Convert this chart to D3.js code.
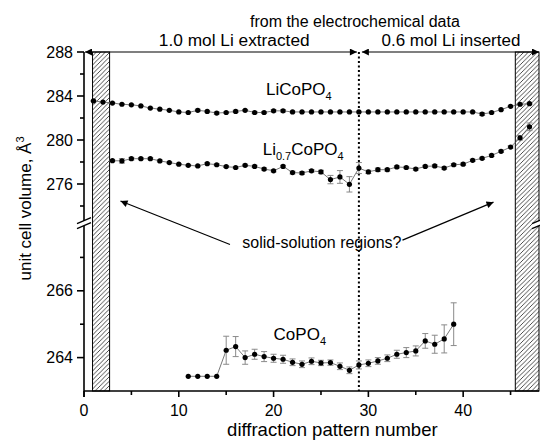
<!DOCTYPE html>
<html>
<head>
<meta charset="utf-8">
<script src="https://cdn.jsdelivr.net/npm/d3@7"></script>
<style>
body { margin: 0; background: #fff; }
text { font-family: Arial, "Liberation Sans", sans-serif; fill: #000; }
</style>
</head>
<body>
<div id="graph"></div>
<script>
// ---- data ----
const liCoStart = 1
const liCoPO4 = [283.55, 283.45, 283.36, 283.25, 283.2, 283.1, 282.9, 282.8, 282.7, 282.55,
  282.5, 282.7, 282.6, 282.45, 282.5, 282.6, 282.7, 282.5, 282.5, 282.65,
  282.65, 282.55, 282.55, 282.55, 282.55, 282.55, 282.55, 282.55, 282.55, 282.55,
  282.55, 282.55, 282.55, 282.55, 282.55, 282.55, 282.55, 282.55, 282.55, 282.55,
  282.55, 282.36, 282.5, 282.76, 283.06, 283.25, 283.3]
const liCoErr = [0.03, 0.03, 0.03, 0.03, 0.03, 0.03, 0.03, 0.03, 0.03, 0.04,
  0.04, 0.1, 0.06, 0.1, 0.06, 0.1, 0.06, 0.1, 0.08, 0.1,
  0.1, 0.06, 0.05, 0.05, 0.05, 0.05, 0.05, 0.05, 0.05, 0.05,
  0.05, 0.05, 0.05, 0.05, 0.05, 0.05, 0.05, 0.05, 0.05, 0.05,
  0.05, 0.12, 0.06, 0.06, 0.05, 0.05, 0.05]

const li07Start = 3
const li07CoPO4 = [278.12, 278.1, 278.3, 278.3, 278.3, 278.1, 277.95, 277.8, 277.7, 277.64,
  277.85, 277.75, 277.58, 277.5, 277.7, 277.6, 277.36, 277.2, 277.6, 277.04,
  277.0, 277.2, 277.1, 276.4, 276.64, 275.97, 277.45, 277.1, 277.3, 277.3,
  277.55, 277.5, 277.36, 277.6, 277.64, 277.45, 277.75, 277.8, 278.15, 278.33,
  278.6, 278.97, 279.36, 280.2, 281.2]
const li07Err = [0.05, 0.2, 0.12, 0.08, 0.08, 0.08, 0.06, 0.06, 0.06, 0.06,
  0.08, 0.08, 0.08, 0.08, 0.1, 0.1, 0.1, 0.1, 0.1, 0.12,
  0.12, 0.12, 0.15, 0.38, 0.58, 0.7, 0.5, 0.15, 0.15, 0.12,
  0.1, 0.1, 0.1, 0.1, 0.1, 0.1, 0.1, 0.1, 0.1, 0.1,
  0.1, 0.1, 0.1, 0.2, 0.35]

const coStart = 11
const coPO4 = [263.44, 263.44, 263.44, 263.44, 264.22, 264.33, 264.0, 264.1, 264.03, 263.98,
  263.95, 263.86, 263.8, 263.89, 263.84, 263.85, 263.74, 263.62, 263.78, 263.83,
  263.9, 263.98, 264.1, 264.15, 264.2, 264.5, 264.4, 264.56, 265.0]
const coErr = [0, 0, 0, 0, 0.42, 0.3, 0.2, 0.15, 0.15, 0.12,
  0.12, 0.1, 0.1, 0.1, 0.08, 0.08, 0.1, 0.1, 0.12, 0.1,
  0.1, 0.1, 0.12, 0.15, 0.15, 0.22, 0.27, 0.42, 0.64]

const xTicks = [0, 10, 20, 30, 40]
const xMinor = [5, 15, 25, 35, 45]
const yUpTicks = [276, 280, 284, 288]
const yUpMinor = [274, 278, 282, 286]
const yLoTicks = [264, 266]
const yLoMinor = [265, 267]

const switchAt = 29          // where extraction turns into insertion
const hatchLeft = [0.9, 2.7]
const hatchRight = [45.5, 48]

// ---- layout ----
const W = 540, H = 443
const x = d3.scaleLinear().domain([0, 48]).range([84, 539])
const yUp = d3.scaleLinear().domain([272.6, 288]).range([221.4, 52])
const yLo = d3.scaleLinear().domain([263, 268]).range([391, 224])
const yBot = yLo(263), yTop = yUp(288)

const svg = d3.select('#graph').append('svg')
  .attr('width', W)
  .attr('height', H)

const defs = svg.append('defs')
const pat = defs.append('pattern')
  .attr('id', 'hatch')
  .attr('patternUnits', 'userSpaceOnUse')
  .attr('width', 4.5)
  .attr('height', 4.5)
pat.append('path')
  .attr('d', 'M-1,1 l2,-2 M0,4.5 l4.5,-4.5 M3.5,5.5 l2,-2')
  .attr('stroke', '#000')
  .attr('stroke-width', 0.7)

defs.append('marker')
  .attr('id', 'head')
  .attr('viewBox', '0 0 10 10')
  .attr('refX', 10).attr('refY', 5)
  .attr('markerWidth', 9).attr('markerHeight', 7)
  .attr('markerUnits', 'userSpaceOnUse')
  .attr('orient', 'auto-start-reverse')
  .append('path')
  .attr('d', 'M0,0 L10,5 L0,10 z')
  .attr('fill', '#000')

// hatched boxes
const hatch = (range)=>{
  svg.append('rect')
    .attr('x', x(range[0]))
    .attr('y', yTop)
    .attr('width', x(range[1]) - x(range[0]))
    .attr('height', yBot - yTop)
    .attr('fill', 'url(#hatch)')
    .attr('stroke', '#000')
    .attr('stroke-width', 1)
}
hatch(hatchLeft)
hatch(hatchRight)

// dotted divider
svg.append('line')
  .attr('x1', x(switchAt)).attr('x2', x(switchAt))
  .attr('y1', yTop).attr('y2', yBot)
  .attr('stroke', '#000')
  .attr('stroke-width', 2)
  .attr('stroke-dasharray', '2,2.5')

// ---- series ----
const series = (vals, errs, start, y)=>{
  const pts = vals.map((v, i) => ({n: start + i, v: v, e: errs[i]}))

  svg.append('path')
    .datum(pts)
    .attr('d', d3.line().x(d => x(d.n)).y(d => y(d.v)))
    .attr('fill', 'none')
    .attr('stroke', '#555')
    .attr('stroke-width', 0.8)

  const eb = svg.append('g')
    .attr('stroke', '#8a8a8a')
    .attr('stroke-width', 1)
  pts.filter(d => d.e > 0).forEach(d => {
    const cx = x(d.n), y1 = y(d.v + d.e), y2 = y(d.v - d.e)
    eb.append('path')
      .attr('d', `M${cx},${y1}V${y2}M${cx - 3},${y1}h6M${cx - 3},${y2}h6`)
  })

  svg.append('g').selectAll('circle')
    .data(pts)
    .enter()
    .append('circle')
    .attr('cx', d => x(d.n))
    .attr('cy', d => y(d.v))
    .attr('r', 2.6)
    .attr('fill', '#000')
}
series(liCoPO4, liCoErr, liCoStart, yUp)
series(li07CoPO4, li07Err, li07Start, yUp)
series(coPO4, coErr, coStart, yLo)

// ---- axes ----
const ax = svg.append('g').attr('stroke', '#000').attr('stroke-width', 1.6)
ax.append('line').attr('x1', x(0)).attr('x2', x(48)).attr('y1', yBot).attr('y2', yBot)
ax.append('line').attr('x1', x(0)).attr('x2', x(0)).attr('y1', yTop).attr('y2', yUp(272.6))
ax.append('line').attr('x1', x(0)).attr('x2', x(0)).attr('y1', yLo(268)).attr('y2', yBot + 6)

xTicks.forEach(t => {
  ax.append('line').attr('x1', x(t)).attr('x2', x(t)).attr('y1', yBot).attr('y2', yBot + 6)
  svg.append('text').attr('x', x(t)).attr('y', yBot + 25)
    .attr('text-anchor', 'middle').attr('font-size', 16).text(t)
})
xMinor.forEach(t => {
  ax.append('line').attr('x1', x(t)).attr('x2', x(t)).attr('y1', yBot).attr('y2', yBot + 4)
})

const yTicks = (ticks, minor, y)=>{
  ticks.forEach(t => {
    ax.append('line').attr('x1', x(0) - 7).attr('x2', x(0)).attr('y1', y(t)).attr('y2', y(t))
    svg.append('text').attr('x', x(0) - 11).attr('y', y(t)).attr('dy', '0.35em')
      .attr('text-anchor', 'end').attr('font-size', 16).text(t)
  })
  minor.forEach(t => {
    ax.append('line').attr('x1', x(0) - 4).attr('x2', x(0)).attr('y1', y(t)).attr('y2', y(t))
  })
}
yTicks(yUpTicks, yUpMinor, yUp)
yTicks(yLoTicks, yLoMinor, yLo)

// axis break marks
const brk = (cx)=>{
  const ym = (yUp(272.6) + yLo(268)) / 2
  svg.append('path')
    .attr('d', `M${cx - 7},${ym + 1} L${cx + 7},${ym - 5} L${cx + 7},${ym} L${cx - 7},${ym + 6} z`)
    .attr('fill', '#fff')
  svg.append('path')
    .attr('d', `M${cx - 7},${ym + 1} L${cx + 7},${ym - 5} M${cx - 7},${ym + 6} L${cx + 7},${ym}`)
    .attr('stroke', '#000')
    .attr('stroke-width', 1.3)
}
brk(x(0))
brk(x(48))

// axis titles
svg.append('text')
  .attr('x', x(26.2))
  .attr('y', 436)
  .attr('text-anchor', 'middle')
  .attr('font-size', 18.5)
  .text('diffraction pattern number')

const yl = svg.append('text')
  .attr('transform', `translate(31,${(yTop + yBot) / 2 - 13}) rotate(-90)`)
  .attr('text-anchor', 'middle')
  .attr('font-size', 17)
yl.append('tspan').text('unit cell volume,  Å')
yl.append('tspan').attr('dy', -7).attr('font-size', 11).text('3')

// ---- top arrows and notes ----
svg.append('line')
  .attr('x1', x(0) + 1).attr('x2', x(switchAt) - 2)
  .attr('y1', yTop).attr('y2', yTop)
  .attr('stroke', '#000').attr('stroke-width', 1.2)
  .attr('marker-start', 'url(#head)').attr('marker-end', 'url(#head)')
svg.append('line')
  .attr('x1', x(switchAt) + 3).attr('x2', x(48))
  .attr('y1', yTop).attr('y2', yTop)
  .attr('stroke', '#000').attr('stroke-width', 1.2)
  .attr('marker-start', 'url(#head)').attr('marker-end', 'url(#head)')

svg.append('text').attr('x', x(switchAt) - 4).attr('y', 27)
  .attr('text-anchor', 'middle').attr('font-size', 16)
  .text('from the electrochemical data')
svg.append('text').attr('x', x(15.85)).attr('y', 46)
  .attr('text-anchor', 'middle').attr('font-size', 17.3)
  .text('1.0 mol Li extracted')
svg.append('text').attr('x', (x(switchAt) + x(48)) / 2 + 2).attr('y', 46)
  .attr('text-anchor', 'middle').attr('font-size', 17)
  .text('0.6 mol Li inserted')

// series labels
const formula = (parts, px, py)=>{
  const t = svg.append('text').attr('x', px).attr('y', py).attr('font-size', 17)
  parts.forEach(p => {
    t.append('tspan').attr('dy', p[1]).attr('font-size', p[1] > 0 ? 11 : 17).text(p[0])
  })
}
formula([['LiCoPO', 0], ['4', 5]], x(19.2), yUp(284.1))
formula([['Li', 0], ['0.7', 5], ['CoPO', -5], ['4', 5]], x(18.85), yUp(278.64))
formula([['CoPO', 0], ['4', 5]], x(20), yLo(264.53))

// solid-solution note
svg.append('text')
  .attr('x', x(25.1)).attr('y', yUp(270.15))
  .attr('text-anchor', 'middle').attr('font-size', 16)
  .text('solid-solution regions?')
svg.append('line')
  .attr('x1', x(15.4)).attr('y1', yUp(270.5))
  .attr('x2', x(3.85)).attr('y2', yUp(274.45))
  .attr('stroke', '#000').attr('stroke-width', 1.2)
  .attr('marker-end', 'url(#head)')
svg.append('line')
  .attr('x1', x(33.6)).attr('y1', yUp(270.9))
  .attr('x2', x(43.2)).attr('y2', yUp(274.35))
  .attr('stroke', '#000').attr('stroke-width', 1.2)
  .attr('marker-end', 'url(#head)')
</script>
</body>
</html>
